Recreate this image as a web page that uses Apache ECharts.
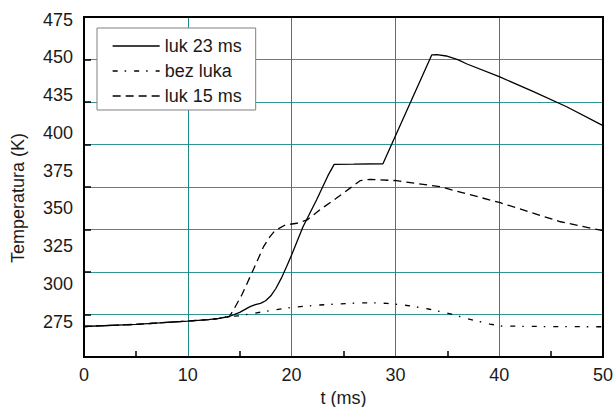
<!DOCTYPE html>
<html>
<head>
<meta charset="utf-8">
<script src="https://cdn.jsdelivr.net/npm/echarts@6/dist/echarts.min.js"></script>
<style>
  html, body { margin: 0; padding: 0; background: #fff; }
  #chart { width: 613px; height: 407px; }
</style>
</head>
<body>
<div id="chart"></div>
<script>
// Temperature history (K) over time (ms)
const tLuk23 = [0, 5, 10, 12, 13, 14, 15, 16, 16.5, 17, 17.5, 18, 18.5, 19, 19.5, 20, 21.1, 22.4, 23.5, 24.1, 26, 28.8, 33.5, 34, 34.9, 36, 36.9, 40, 43.3, 46.5, 50];
const kLuk23 = [270.2, 271.6, 273.8, 274.8, 275.5, 276.8, 279.5, 283.3, 284.6, 285.5, 287.2, 290.5, 295.5, 302, 309.5, 317.5, 336.2, 353.9, 370, 377.5, 377.6, 377.9, 449.9, 450.1, 449.2, 446.8, 443.9, 435.5, 425.6, 415.6, 403.1];

const tBezLuka = [0, 5, 10, 12, 13, 14, 15, 17.3, 20, 22.7, 25.5, 27.5, 29.2, 31.4, 33.3, 35.3, 37.2, 39.1, 40.2, 45, 50];
const kBezLuka = [270.2, 271.6, 273.8, 274.8, 275.5, 276.8, 277.3, 280.0, 282.9, 284.4, 285.5, 285.9, 285.5, 283.9, 281.6, 278.5, 274.9, 271.8, 270.5, 270.1, 270.0];

const tLuk15 = [0, 5, 10, 12, 13, 14, 14.4, 15.2, 16.3, 17.3, 17.9, 18.4, 19.4, 20.5, 21.5, 22.7, 24.3, 25.6, 26.6, 27.6, 30.1, 34.3, 40.1, 45.9, 50];
const kLuk15 = [270.2, 271.6, 273.8, 274.8, 275.5, 276.8, 281.1, 291.0, 307.6, 323.0, 329.5, 333.6, 337.4, 338.5, 340.7, 347.3, 355.0, 361.6, 366.7, 367.6, 366.7, 362.7, 352.1, 339.5, 333.6];

const seriesNames = ['luk 23 ms', 'bez luka', 'luk 15 ms'];

// Temperature axis labels as printed
const yLabelMap = { 475: '475', 450: '450', 425: '435', 400: '400', 375: '375', 350: '350', 325: '325', 300: '300', 275: '275', 250: '' };
const yTitle = 'Temperatura (K)';

const zip = (a, b) => a.map((x, i) => [x, b[i]]);
const FONT = 'Liberation Sans, Arial, sans-serif';
const TEAL_H = '#2f9595';
const TEAL_V = '#1f8888';

const chart = echarts.init(document.getElementById('chart'), null, { renderer: 'svg' });
chart.setOption({
  animation: false,
  backgroundColor: '#fff',
  textStyle: { fontFamily: FONT },
  grid: {
    left: 84, right: 10, top: 17, bottom: 50,
    outerBoundsMode: 'none',
    containLabel: false,
    show: true, z: 5,
    backgroundColor: 'transparent',
    borderColor: '#000', borderWidth: 2
  },
  graphic: [{
    type: 'text',
    x: 18, y: 198,
    rotation: Math.PI / 2,
    style: {
      text: yTitle,
      fontSize: 18, fontFamily: FONT, fill: '#1a1a1a',
      align: 'center', verticalAlign: 'middle'
    }
  }],
  legend: {
    orient: 'vertical',
    left: 97, top: 28,
    padding: [9, 14, 5, 15],
    itemWidth: 47, itemHeight: 14, itemGap: 7,
    backgroundColor: '#fff',
    borderColor: '#808080', borderWidth: 1,
    textStyle: { fontSize: 18, color: '#1a1a1a', fontFamily: FONT },
    lineStyle: { width: 1.3 },
    itemStyle: { color: 'transparent', borderWidth: 0, opacity: 0 },
    data: seriesNames
  },
  xAxis: {
    type: 'value', min: 0, max: 50, interval: 10,
    name: 't (ms)', nameLocation: 'middle', nameGap: 30,
    nameTextStyle: { fontSize: 18, color: '#1a1a1a', fontFamily: FONT },
    axisLine: { show: false },
    axisTick: { show: false, inside: true },
    minorTick: { show: true, splitNumber: 2, length: 6, lineStyle: { color: '#000', width: 1.5 } },
    axisLabel: { fontSize: 18, color: '#1a1a1a', margin: 9, fontFamily: FONT },
    splitLine: { show: true, lineStyle: { color: TEAL_V, width: 1 } }
  },
  yAxis: [
    {
      // labelled temperature scale
      type: 'value', min: 250, max: 475, interval: 25,
      axisLine: { show: false },
      axisTick: { show: false },
      splitLine: { show: false },
      axisLabel: {
        fontSize: 18, color: '#1a1a1a', margin: 11, fontFamily: FONT,
        verticalAlign: 'top', lineHeight: 5,
        showMaxLabel: true, showMinLabel: true,
        formatter: v => yLabelMap[v] !== undefined ? yLabelMap[v] : String(v)
      }
    },
    {
      // horizontal grid lines
      type: 'value', min: 0, max: 8, interval: 1,
      position: 'left',
      axisLine: { show: false },
      axisTick: { show: false },
      axisLabel: { show: false },
      splitLine: { show: true, lineStyle: { color: TEAL_H, width: 1 } }
    },
    {
      // inward ticks drawn over the grid lines
      type: 'value', min: 0, max: 8, interval: 1,
      position: 'left', z: 3,
      axisLine: { show: false },
      axisTick: { show: true, inside: true, length: 7, lineStyle: { color: '#000', width: 1.5 } },
      axisLabel: { show: false },
      splitLine: { show: false }
    }
  ],
  series: [
    {
      name: seriesNames[1], type: 'line', yAxisIndex: 0, symbol: 'none', z: 2,
      lineStyle: { color: '#000', width: 1.3, type: [5, 7, 1.5, 8] },
      itemStyle: { color: '#000' },
      data: zip(tBezLuka, kBezLuka)
    },
    {
      name: seriesNames[2], type: 'line', yAxisIndex: 0, symbol: 'none', z: 2,
      lineStyle: { color: '#000', width: 1.3, type: [8, 5] },
      itemStyle: { color: '#000' },
      data: zip(tLuk15, kLuk15)
    },
    {
      name: seriesNames[0], type: 'line', yAxisIndex: 0, symbol: 'none', z: 3,
      lineStyle: { color: '#000', width: 1.3, type: 'solid' },
      itemStyle: { color: '#000' },
      data: zip(tLuk23, kLuk23)
    }
  ]
});
</script>
</body>
</html>
